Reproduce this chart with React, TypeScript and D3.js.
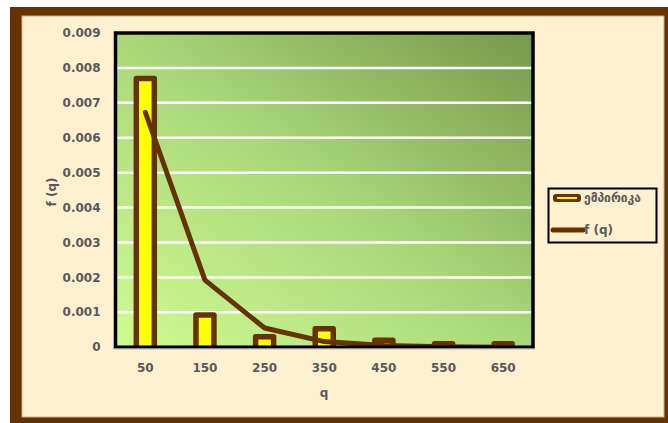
import React from "react";
import * as d3 from "d3";

const categories = ["50", "150", "250", "350", "450", "550", "650"];
const empirical = [0.0077, 0.00092, 0.0003, 0.00053, 0.0002, 0.0001, 0.0001];
const fq = [0.00673, 0.00192, 0.00055, 0.00016, 0.00005, 0.00001, 0.0];
const yTicks = [0, 0.001, 0.002, 0.003, 0.004, 0.005, 0.006, 0.007, 0.008, 0.009];
const legendLabels = ["ემპირიკა", "f (q)"];

const W = 668;
const H = 423;
const plot = { left: 115.5, right: 533, top: 33, bottom: 347.2 };
const brown = "#663300";
const textGrey = "#595959";
const font = "'DejaVu Sans', Verdana, sans-serif";

export default function App() {
  const x = d3.scaleBand<string>().domain(categories).range([plot.left, plot.right]).padding(0);
  const y = d3.scaleLinear().domain([0, 0.009]).range([plot.bottom, plot.top]);
  const barW = 18;
  const line = d3
    .line<number>()
    .x((_, i) => (x(categories[i]) as number) + x.bandwidth() / 2)
    .y((d) => y(d));

  return (
    <svg
      width={W}
      height={H}
      style={{ position: "absolute", left: 0, top: 0 }}
      fontFamily={font}
    >
      <defs>
        <linearGradient id="bg" x1="0" y1="1" x2="1" y2="0">
          <stop offset="0" stopColor="#cffb92" />
          <stop offset="0.5" stopColor="#aad879" />
          <stop offset="1" stopColor="#76994c" />
        </linearGradient>
        <clipPath id="pc">
          <rect x={plot.left} y={plot.top} width={plot.right - plot.left} height={plot.bottom - plot.top} />
        </clipPath>
      </defs>
      <rect x={0} y={0} width={W} height={H} fill="#ffffff" />
      <rect x={10} y={7} width={W} height={H} fill={brown} />
      <rect x={22} y={16} width={642} height={401} fill="#fff0cf" stroke="#bfb39b" strokeWidth={1} />

      {/* plot background */}
      <rect
        x={plot.left}
        y={plot.top}
        width={plot.right - plot.left}
        height={plot.bottom - plot.top}
        fill="url(#bg)"
      />
      {yTicks.slice(1, -1).map((t) => (
        <line
          key={t}
          x1={plot.left}
          x2={plot.right}
          y1={y(t)}
          y2={y(t)}
          stroke="#ffffff"
          strokeWidth={2.5}
        />
      ))}

      <g clipPath="url(#pc)">
        {empirical.map((v, i) => {
          const cx = (x(categories[i]) as number) + x.bandwidth() / 2;
          return (
            <rect
              key={i}
              x={cx - barW / 2}
              y={y(v)}
              width={barW}
              height={plot.bottom - y(v) + 3}
              fill="#ffff00"
              stroke={brown}
              strokeWidth={5.5}
              strokeLinejoin="round"
            />
          );
        })}
        <path
          d={line(fq) || ""}
          fill="none"
          stroke={brown}
          strokeWidth={5}
          strokeLinecap="round"
          strokeLinejoin="round"
        />
      </g>

      <rect
        x={plot.left}
        y={plot.top}
        width={plot.right - plot.left}
        height={plot.bottom - plot.top}
        fill="none"
        stroke="#000000"
        strokeWidth={3.5}
      />
      <line x1={plot.left - 2} x2={plot.right + 2} y1={plot.bottom + 1.5} y2={plot.bottom + 1.5} stroke="#8a8a8a" strokeWidth={1.2} />

      {/* y tick labels */}
      {yTicks.map((t) => (
        <text
          key={t}
          x={100.5}
          y={y(t)}
          dy="0.35em"
          textAnchor="end"
          fontSize={12}
          fontWeight="bold"
          fill={textGrey}
        >
          {t === 0 ? "0" : d3.format(".3f")(t)}
        </text>
      ))}
      {/* x tick labels */}
      {categories.map((c) => (
        <text
          key={c}
          x={(x(c) as number) + x.bandwidth() / 2}
          y={368}
          dy="0.35em"
          textAnchor="middle"
          fontSize={12}
          fontWeight="bold"
          fill={textGrey}
        >
          {c}
        </text>
      ))}
      <text x={324} y={393} dy="0.35em" textAnchor="middle" fontSize={12} fontWeight="bold" fill={textGrey}>
        q
      </text>
      <text
        transform={`translate(52, 192) rotate(-90)`}
        dy="0.35em"
        textAnchor="middle"
        fontSize={12}
        fontWeight="bold"
        fill={textGrey}
      >
        f (q)
      </text>

      {/* legend */}
      <rect x={548.5} y={188.5} width={108} height={54} fill="#fff0cf" stroke="#000000" strokeWidth={2} />
      <rect x={553} y={194} width={28} height={8} rx={3} fill={brown} />
      <line x1={557} x2={577} y1={198} y2={198} stroke="#ffff00" strokeWidth={2} />
      <text x={584} y={198} dy="0.35em" fontSize={12} fontWeight="bold" fill={textGrey}>
        {legendLabels[0]}
      </text>
      <line x1={553} x2={583} y1={230} y2={230} stroke={brown} strokeWidth={5} strokeLinecap="round" />
      <text x={584} y={230} dy="0.35em" fontSize={12} fontWeight="bold" fill={textGrey}>
        {legendLabels[1]}
      </text>
    </svg>
  );
}
